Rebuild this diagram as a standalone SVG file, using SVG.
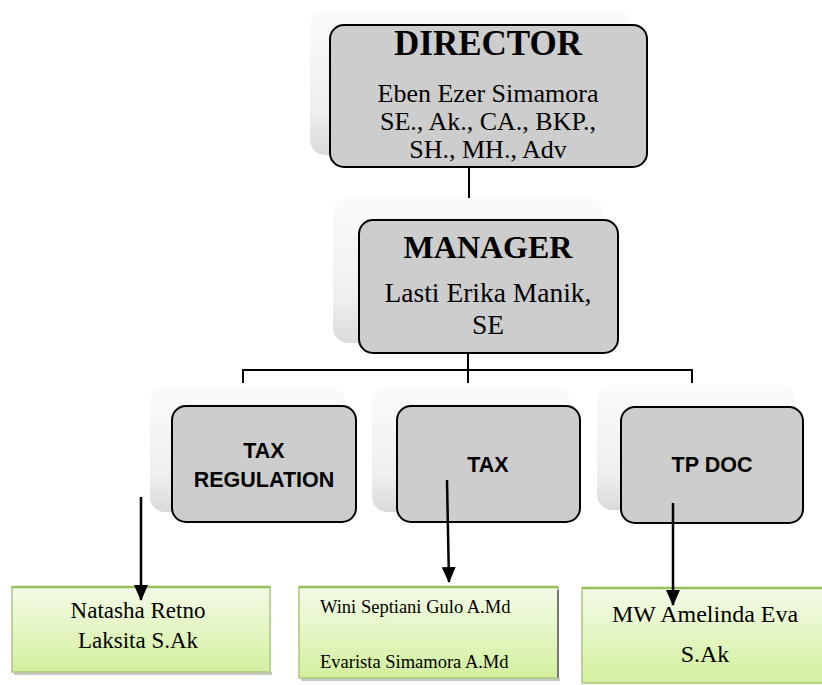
<svg xmlns="http://www.w3.org/2000/svg" width="822" height="685" viewBox="0 0 822 685">
<style>
.shadow{fill:url(#sg);stroke:none}
.box{fill:#cdcdcd;stroke:#000;stroke-width:2}
.green{fill:url(#gg);stroke:#a8c878;stroke-width:1.5}
.conn{stroke:#000;stroke-width:2;fill:none}
.arrow{stroke:#000;stroke-width:2.5;fill:none}
.serif{font-family:"Liberation Serif","Times New Roman",serif;fill:#000}
.sans{font-family:"Liberation Sans",Arial,sans-serif;font-weight:bold;fill:#000}
</style>
<defs>
<linearGradient id="sg" x1="0" y1="0" x2="0" y2="1">
<stop offset="0" stop-color="#fbfbfb"/>
<stop offset="0.7" stop-color="#efefef"/>
<stop offset="1" stop-color="#dadada"/>
</linearGradient>
<linearGradient id="gg" x1="0" y1="0" x2="0" y2="1">
<stop offset="0" stop-color="#f4fbe8"/>
<stop offset="1" stop-color="#d3f09e"/>
</linearGradient>
<marker id="ah" markerUnits="userSpaceOnUse" markerWidth="16" markerHeight="16" viewBox="0 0 16 16" refX="15" refY="8" orient="auto">
<path d="M0,1 L16,8 L0,15 Z" fill="#000"/>
</marker>
</defs>

<g id="director">
<rect class="shadow" x="310" y="10" width="320" height="145" rx="15"/>
<rect class="box" x="330" y="25" width="317" height="142" rx="14"/>
<text class="serif" x="488" y="55" font-size="35" font-weight="bold" text-anchor="middle">DIRECTOR</text>
<text class="serif" x="488" y="102" font-size="26" text-anchor="middle">Eben Ezer Simamora</text>
<text class="serif" x="488" y="130" font-size="26" text-anchor="middle">SE., Ak., CA., BKP.,</text>
<text class="serif" x="488" y="158" font-size="26" text-anchor="middle">SH., MH., Adv</text>
</g>

<g id="manager">
<rect class="shadow" x="333" y="198" width="270" height="145" rx="15"/>
<rect class="box" x="359" y="220" width="259" height="133" rx="14"/>
<text class="serif" x="488" y="258" font-size="32" font-weight="bold" text-anchor="middle">MANAGER</text>
<text class="serif" x="488" y="302" font-size="27.5" text-anchor="middle">Lasti Erika Manik,</text>
<text class="serif" x="488" y="334" font-size="27.5" text-anchor="middle">SE</text>
</g>

<g id="tax-regulation">
<rect class="shadow" x="150" y="387" width="195" height="125" rx="15"/>
<rect class="box" x="172" y="406" width="184" height="116" rx="14"/>
<text class="sans" x="264" y="458" font-size="21.5" text-anchor="middle">TAX</text>
<text class="sans" x="264" y="487" font-size="21.5" text-anchor="middle">REGULATION</text>
</g>

<g id="tax">
<rect class="shadow" x="372" y="387" width="198" height="125" rx="15"/>
<rect class="box" x="397" y="406" width="183" height="116" rx="14"/>
<text class="sans" x="488" y="472" font-size="21.5" text-anchor="middle">TAX</text>
</g>

<g id="tp-doc">
<rect class="shadow" x="597" y="385" width="198" height="125" rx="15"/>
<rect class="box" x="621" y="407" width="182" height="116" rx="14"/>
<text class="sans" x="712" y="472" font-size="21.5" text-anchor="middle">TP DOC</text>
</g>

<g id="natasha">
<rect x="14" y="672" width="258" height="3" fill="#c8c8c8"/>
<rect class="green" x="12" y="587" width="258" height="85"/>
<line x1="12" y1="587" x2="270" y2="587" stroke="#94c05a" stroke-width="2.5"/>
<text class="serif" x="138" y="618" font-size="23" text-anchor="middle">Natasha Retno</text>
<text class="serif" x="138" y="648" font-size="23" text-anchor="middle">Laksita S.Ak</text>
</g>

<g id="wini-evarista">
<rect x="301" y="678" width="259" height="3" fill="#c8c8c8"/>
<rect class="green" x="299" y="587" width="259" height="91"/>
<line x1="299" y1="587" x2="558" y2="587" stroke="#94c05a" stroke-width="2.5"/>
<line x1="558" y1="590" x2="558" y2="678" stroke="#777" stroke-width="2"/>
<text class="serif" x="320" y="613" font-size="18.5">Wini Septiani Gulo A.Md</text>
<text class="serif" x="320" y="668" font-size="18.5">Evarista Simamora A.Md</text>
</g>

<g id="mw-amelinda">
<rect class="green" x="582" y="588" width="245" height="95"/>
<line x1="582" y1="588" x2="822" y2="588" stroke="#94c05a" stroke-width="2.5"/>
<text class="serif" x="705" y="622" font-size="24" text-anchor="middle">MW Amelinda Eva</text>
<text class="serif" x="705" y="662" font-size="24" text-anchor="middle">S.Ak</text>
</g>

<g id="connectors">
<line class="conn" x1="469" y1="167" x2="469" y2="198"/>
<line class="conn" x1="468" y1="353" x2="468" y2="370"/>
<line class="conn" x1="243" y1="370" x2="692" y2="370"/>
<line class="conn" x1="243" y1="369" x2="243" y2="383"/>
<line class="conn" x1="468" y1="369" x2="468" y2="383"/>
<line class="conn" x1="692" y1="369" x2="692" y2="383"/>
<line class="arrow" x1="141" y1="497" x2="141" y2="600" marker-end="url(#ah)"/>
<line class="arrow" x1="447" y1="480" x2="449" y2="582" marker-end="url(#ah)"/>
<line class="arrow" x1="673" y1="503" x2="673" y2="605" marker-end="url(#ah)"/>
</g>
</svg>
